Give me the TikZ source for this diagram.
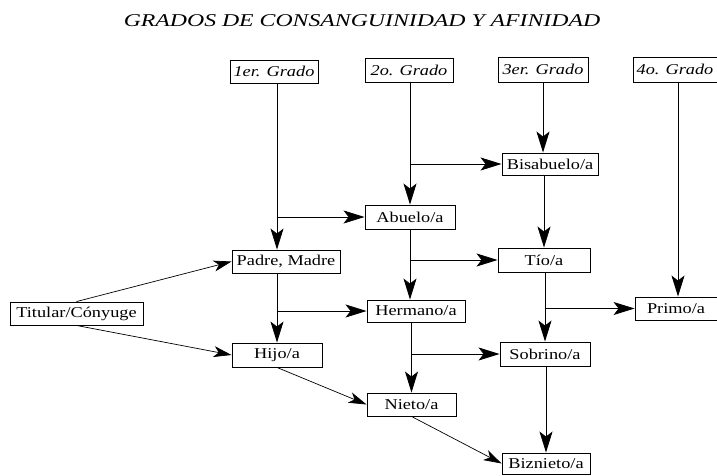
\documentclass[tikz,border=0pt]{standalone}
\usepackage{fontspec}
\setmainfont{Liberation Serif}
\usetikzlibrary{arrows.meta}
\newcommand\widetxt[1]{\scalebox{1.22}[1]{#1}}
\newcommand\widetitle[1]{\scalebox{1.32}[1]{#1}}
\begin{document}
\begin{tikzpicture}[x=1pt,y=-1pt,
  box/.style={draw, line width=0.9pt, inner sep=0pt, font=\fontsize{15}{17}\selectfont},
  gbox/.style={box, font=\fontsize{15}{17}\selectfont\itshape},
  arr/.style={line width=0.8pt, -{Stealth[length=21pt,width=13pt,inset=5pt]}},
  diag/.style={line width=0.7pt, -{Stealth[length=18pt,width=11pt,inset=5pt]}}]
\useasboundingbox (0,0) rectangle (717,476);
\node[font=\fontsize{18}{20}\selectfont\itshape] (title) at (362,21) {\widetitle{GRADOS DE CONSANGUINIDAD Y AFINIDAD}};
% grado boxes
\node[gbox, minimum width=88pt, minimum height=23pt] (g1) at (274,71.5) {\widetxt{1er. Grado}};
\node[gbox, minimum width=88pt, minimum height=24pt] (g2) at (409,70.5) {\widetxt{2o. Grado}};
\node[gbox, minimum width=90pt, minimum height=25pt] (g3) at (543,69.5) {\widetxt{3er. Grado}};
\node[gbox, minimum width=84pt, minimum height=25pt] (g4) at (675,69.5) {\widetxt{4o. Grado}};
% relatives
\node[box, minimum width=96pt, minimum height=22pt] (bis) at (550,164) {\widetxt{Bisabuelo/a}};
\node[box, minimum width=90pt, minimum height=24pt] (abuelo) at (410,217) {\widetxt{Abuelo/a}};
\node[box, minimum width=108pt, minimum height=23pt] (padre) at (286,261.5) {\widetxt{Padre, Madre}};
\node[box, minimum width=133pt, minimum height=23pt] (titular) at (76.5,313.5) {\widetxt{Titular/Cónyuge}};
\node[box, minimum width=90pt, minimum height=24pt] (hijo) at (277,355) {\widetxt{Hijo/a}};
\node[box, minimum width=98pt, minimum height=22pt] (hermano) at (416,311) {\widetxt{Hermano/a}};
\node[box, minimum width=92pt, minimum height=24pt] (tio) at (544,260) {\widetxt{Tío/a}};
\node[box, minimum width=82pt, minimum height=23pt] (primo) at (676,308.5) {\widetxt{Primo/a}};
\node[box, minimum width=90pt, minimum height=24pt] (sobrino) at (545,354) {\widetxt{Sobrino/a}};
\node[box, minimum width=89pt, minimum height=23pt] (nieto) at (411.5,404.5) {\widetxt{Nieto/a}};
\node[box, minimum width=88pt, minimum height=21pt] (biznieto) at (546,463.5) {\widetxt{Biznieto/a}};
% column 1
\draw[arr] (g1.south -| hijo.north) -- (hijo.north |- padre.north);
\draw[arr] (hijo.north |- abuelo.west) -- (abuelo.west);
\draw[arr] (padre.south -| hijo.north) -- (hijo.north);
\draw[arr] (hijo.north |- hermano.west) -- (hermano.west);
% column 2
\draw[arr] (g2.south -| abuelo.north) -- (abuelo.north);
\draw[arr] (abuelo.north |- bis.west) -- (bis.west);
\draw[arr] (abuelo.south) -- (abuelo.south |- hermano.north);
\draw[arr] (abuelo.south |- tio.west) -- (tio.west);
\draw[arr] (hermano.south -| nieto.north) -- (nieto.north);
\draw[arr] (nieto.north |- sobrino.west) -- (sobrino.west);
% column 3
\draw[arr] (g3.south) -- (g3.south |- bis.north);
\draw[arr] (bis.south -| tio.north) -- (tio.north);
\draw[arr] (tio.south -| sobrino.north) -- (sobrino.north);
\draw[arr] (sobrino.north |- primo.west) -- (primo.west);
\draw[arr] (sobrino.south -| biznieto.north) -- (biznieto.north);
% column 4
\draw[arr] ([xshift=3pt]g4.south) -- ([xshift=3pt]g4.south |- primo.north);
% diagonals
\draw[diag] (titular.north) -- (padre.west);
\draw[diag] (titular.south) -- (hijo.west);
\draw[diag] (hijo.south) -- (nieto.west);
\draw[diag] (nieto.south) -- (biznieto.west);
\end{tikzpicture}
\end{document}
